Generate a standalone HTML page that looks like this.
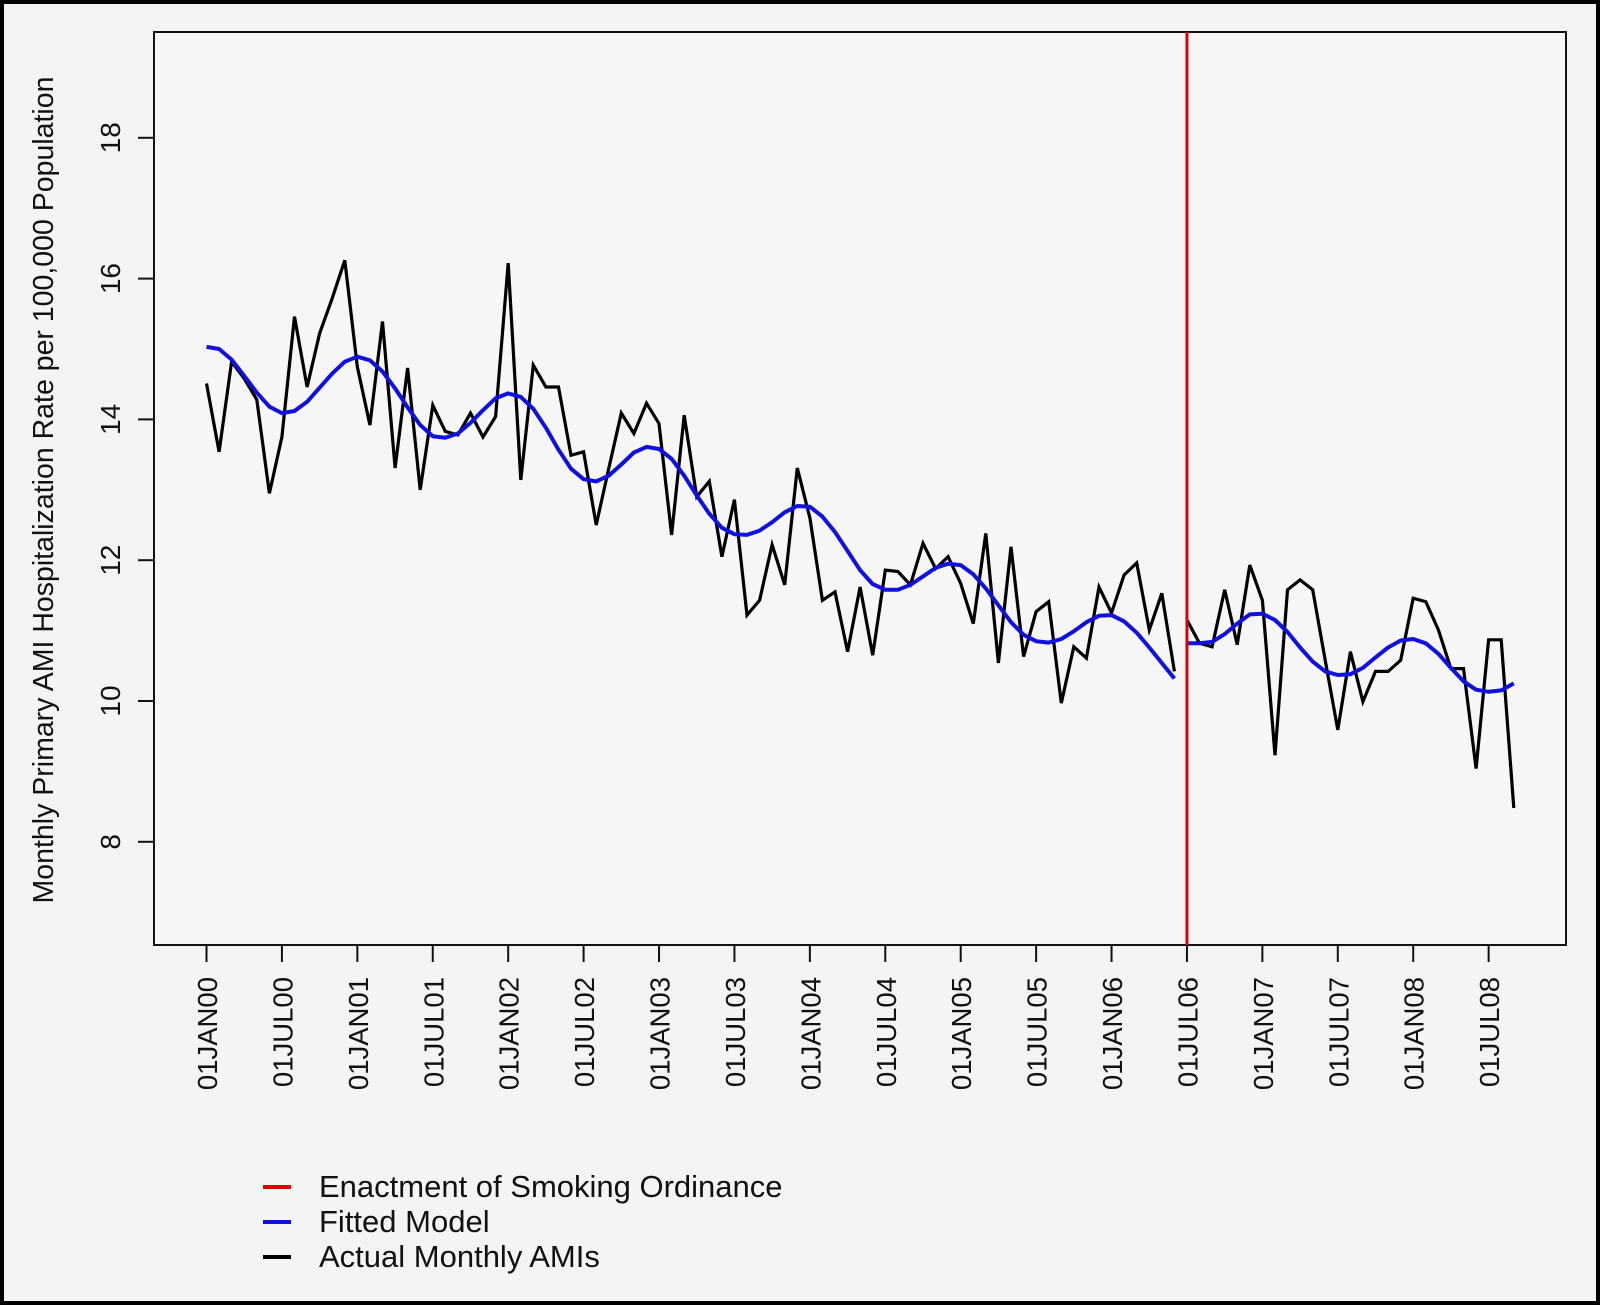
<!DOCTYPE html>
<html><head><meta charset="utf-8"><style>
html,body{margin:0;padding:0;background:#000;}
svg{display:block;font-family:"Liberation Sans",Arial,sans-serif;}
</style></head><body>
<svg id="chart" width="1600" height="1305" viewBox="0 0 1600 1305" xmlns="http://www.w3.org/2000/svg">
<rect x="4" y="4" width="1592" height="1297" fill="#f4f4f4"/>
<g id="plot"></g>
<text transform="translate(53,490) rotate(-90)" text-anchor="middle" font-size="28.5" fill="#111">Monthly Primary AMI Hospitalization  Rate per 100,000 Population</text>
<g>
<line x1="263" y1="1187" x2="291" y2="1187" stroke="#e00000" stroke-width="4"/>
<text x="319" y="1197" font-size="31" fill="#111">Enactment of Smoking Ordinance</text>
<line x1="263" y1="1222" x2="291" y2="1222" stroke="#1010e0" stroke-width="4"/>
<text x="319" y="1232" font-size="31" fill="#111">Fitted Model</text>
<line x1="263" y1="1257" x2="291" y2="1257" stroke="#000" stroke-width="4"/>
<text x="319" y="1267" font-size="31" fill="#111">Actual Monthly AMIs</text>
</g>
</svg>
<script>
const actual = [14.51,13.54,14.82,14.58,14.28,12.95,13.75,15.46,14.46,15.22,15.72,16.26,14.75,13.92,15.39,13.31,14.73,13.00,14.20,13.83,13.78,14.09,13.75,14.04,16.22,13.14,14.77,14.46,14.46,13.49,13.54,12.50,13.30,14.09,13.80,14.23,13.94,12.36,14.06,12.90,13.12,12.05,12.86,11.22,11.43,12.22,11.65,13.31,12.60,11.43,11.55,10.70,11.62,10.65,11.86,11.84,11.65,12.24,11.88,12.05,11.67,11.10,12.38,10.54,12.19,10.63,11.27,11.41,9.97,10.77,10.61,11.62,11.25,11.79,11.96,11.01,11.53,10.42,
11.15,10.82,10.77,11.58,10.80,11.93,11.43,9.23,11.58,11.72,11.58,10.58,9.59,10.70,9.99,10.42,10.42,10.58,11.46,11.41,11.01,10.46,10.46,9.04,10.87,10.87,8.48];
const fitted = [15.03,15.00,14.85,14.62,14.38,14.18,14.09,14.12,14.25,14.45,14.65,14.82,14.89,14.84,14.68,14.44,14.17,13.92,13.76,13.74,13.80,13.95,14.13,14.30,14.37,14.32,14.15,13.88,13.57,13.30,13.15,13.12,13.20,13.36,13.53,13.61,13.58,13.44,13.20,12.92,12.66,12.46,12.37,12.36,12.42,12.54,12.68,12.77,12.76,12.62,12.40,12.13,11.86,11.66,11.58,11.58,11.65,11.77,11.89,11.95,11.93,11.80,11.60,11.36,11.12,10.94,10.85,10.83,10.88,10.99,11.12,11.21,11.22,11.13,10.97,10.76,10.54,10.32,
10.82,10.82,10.84,10.95,11.10,11.23,11.24,11.15,10.98,10.76,10.56,10.42,10.37,10.38,10.47,10.62,10.76,10.86,10.88,10.82,10.67,10.47,10.28,10.16,10.13,10.15,10.25];
const breakMonth = 78;
const yTicks = [8,10,12,14,16,18];
const xTickLabels = ["01JAN00","01JUL00","01JAN01","01JUL01","01JAN02","01JUL02","01JAN03","01JUL03","01JAN04","01JUL04","01JAN05","01JUL05","01JAN06","01JUL06","01JAN07","01JUL07","01JAN08","01JUL08"];

const NS="http://www.w3.org/2000/svg";
const L=154,T=32,R=1566,B=945;
const xs = m => 206.5 + m*12.57;
const ys = v => 701 - (v-10)*70.4;
const g=document.getElementById('plot');
function mk(tag,attrs){const e=document.createElementNS(NS,tag);for(const k in attrs)e.setAttribute(k,attrs[k]);g.appendChild(e);return e;}

const box=mk('rect',{x:L,y:T,width:R-L,height:B-T,fill:'#f6f6f6',stroke:'#111','stroke-width':2});



yTicks.forEach(v=>{
  const t=mk('line',{x1:L-16,x2:L,y1:ys(v),y2:ys(v),stroke:'#111','stroke-width':2});
  
  
  const tx=mk('text',{transform:`translate(120,${ys(v)}) rotate(-90)`,'text-anchor':'middle','font-size':28,fill:'#111'});
  
  
  tx.textContent=v;
});
xTickLabels.forEach((lab,i)=>{
  const x=xs(i*6);
  const t=mk('line',{x1:x,x2:x,y1:B,y2:B+17,stroke:'#111','stroke-width':2});
  
  
  const tx=mk('text',{transform:`translate(${x+10.5},977) rotate(-90)`,'text-anchor':'end','font-size':27.5,fill:'#111'});
  
  
  tx.textContent=lab;
});

function seg(arr,a,b){let p=[];for(let m=a;m<b;m++)p.push(xs(m).toFixed(1)+','+ys(arr[m]).toFixed(1));return p.join(' ');}
[[0,breakMonth],[breakMonth,actual.length]].forEach(([a,b])=>{
  const pl=mk('polyline',{points:seg(actual,a,b),fill:'none',stroke:'#000','stroke-width':3.2,'stroke-linejoin':'miter'});
  
  
});
[[0,breakMonth],[breakMonth,fitted.length]].forEach(([a,b])=>{
  const pl=mk('polyline',{points:seg(fitted,a,b),fill:'none',stroke:'#1010e0','stroke-width':4,'stroke-linejoin':'round'});
  
  
});
const red=mk('line',{x1:xs(breakMonth),x2:xs(breakMonth),y1:T,y2:B,stroke:'#e00000','stroke-width':3});


</script>
</body></html>
